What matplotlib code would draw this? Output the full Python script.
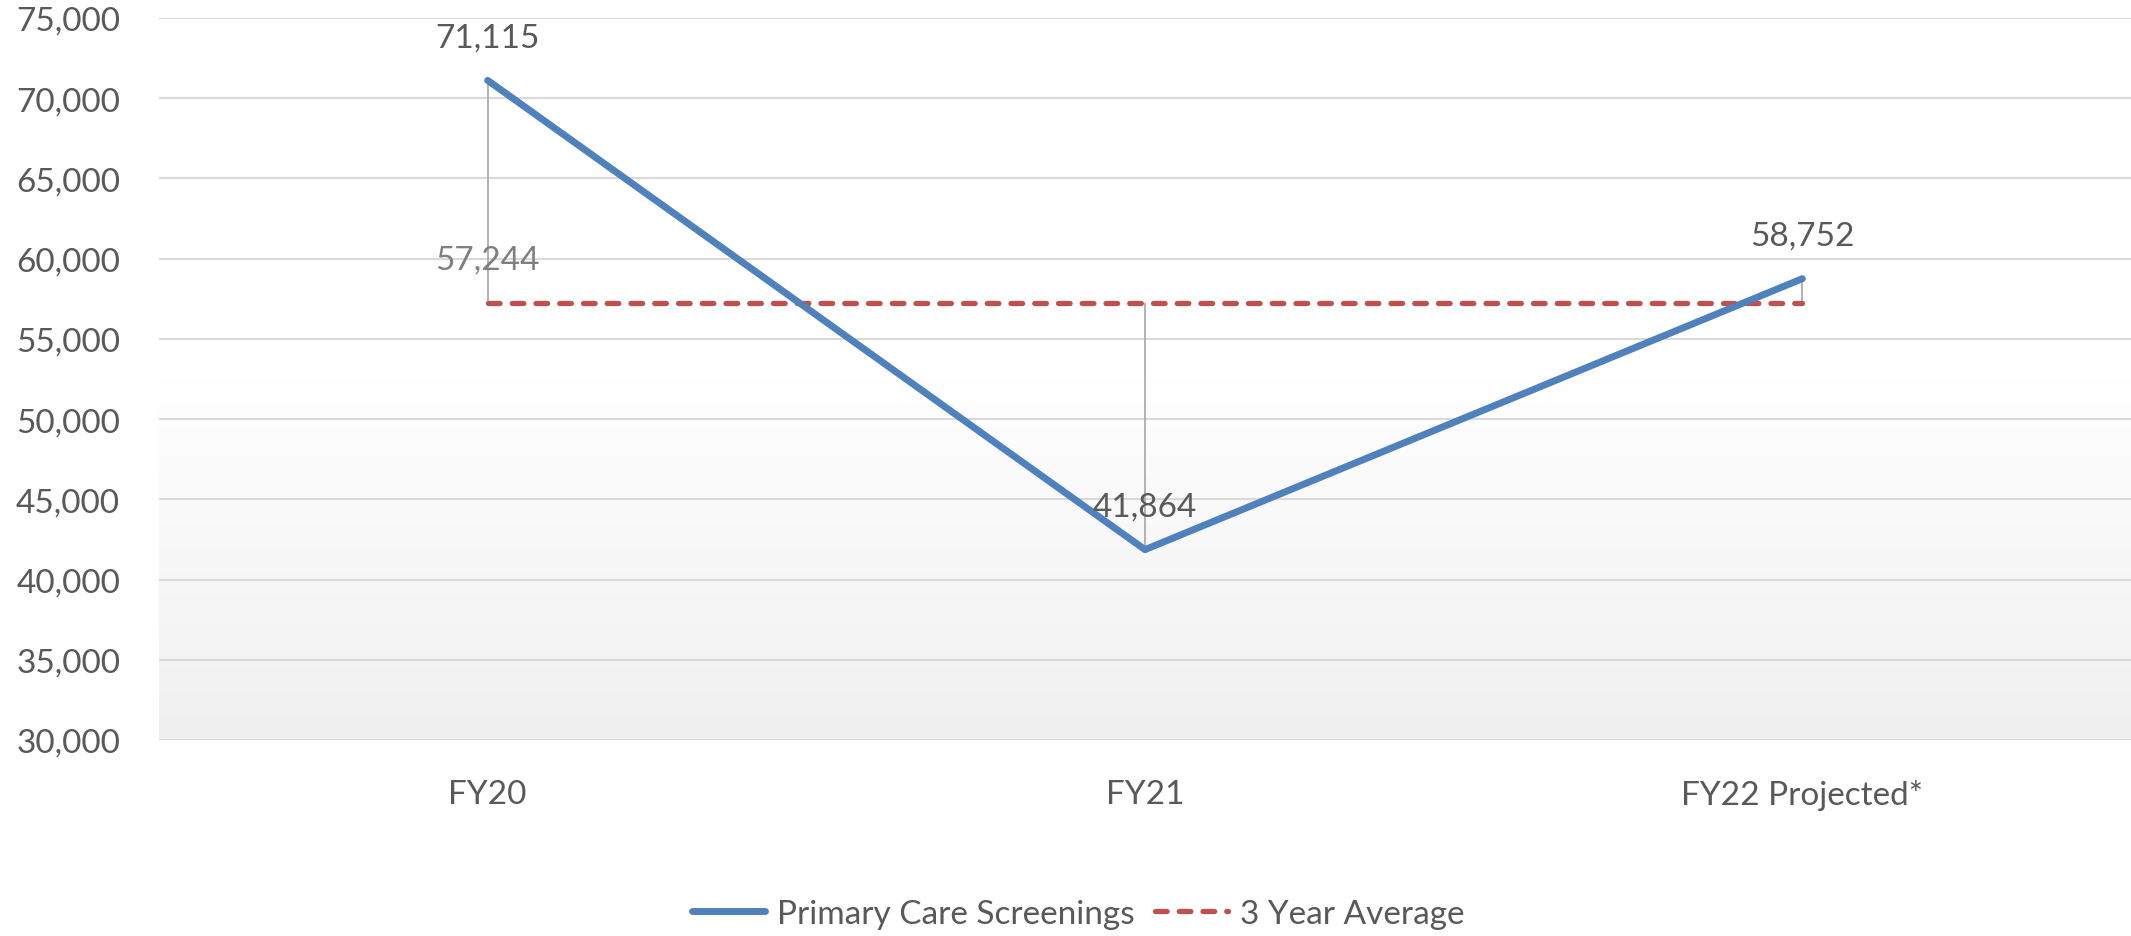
import numpy as np
import matplotlib.pyplot as plt
from matplotlib.colors import LinearSegmentedColormap
from matplotlib.ticker import FuncFormatter, MultipleLocator

categories = ['FY20', 'FY21', 'FY22 Projected*']
screenings = [71115, 41864, 58752]
avgVals = [57244, 57244, 57244]

plt.rcParams['font.family'] = ['Lato', 'DejaVu Sans']
textColor = '#595959'

fig = plt.figure(figsize=(21.31, 9.37), dpi=100)
ax = fig.add_axes([0.0746, 0.2092, 0.9254, 0.7705])

x = np.arange(len(categories))

# background gradient (white at top to light grey at bottom)
grad = np.linspace(0, 1, 256).reshape(-1, 1)
cmap = LinearSegmentedColormap.from_list('bg', ['#ffffff', '#ffffff', '#f0f0f0'])
ax.imshow(grad, cmap=cmap, aspect='auto', extent=[0, 1, 0, 1],
          transform=ax.transAxes, zorder=0, vmin=0, vmax=1)

ax.set_xlim(-0.5, len(categories) - 0.5)
ax.set_ylim(30000, 75000)
ax.yaxis.set_major_locator(MultipleLocator(5000))
ax.yaxis.set_major_formatter(FuncFormatter(lambda v, p: '{:,.0f}'.format(v)))
ax.grid(axis='y', color='#d9d9d9', lw=1.5, zorder=1)
ax.set_axisbelow(True)
for s in ax.spines.values():
    s.set_visible(False)
ax.tick_params(length=0, labelsize=24, colors=textColor)
ax.tick_params(axis='y', pad=28)
ax.tick_params(axis='x', pad=28)
ax.set_xticks(x)
ax.set_xticklabels(categories)

# high-low lines
hi = np.maximum(screenings, avgVals)
lo = np.minimum(screenings, avgVals)
ax.vlines(x, lo, hi, color='#a6a6a6', lw=1.2, zorder=2)

ax.plot(x, screenings, color='#4f81bd', lw=5, solid_capstyle='round',
        solid_joinstyle='round', zorder=4, label='Primary Care Screenings')
ax.plot(x, avgVals, color='#c0504d', lw=3.8, dashes=(2.2, 2.3),
        dash_capstyle='round', zorder=3, label='3 Year Average')

for xi, v in zip(x, screenings):
    ax.annotate('{:,}'.format(v), (xi, v), xytext=(0, 31), textcoords='offset points',
                ha='center', va='center', fontsize=24, color=textColor, zorder=5)
ax.annotate('{:,}'.format(avgVals[0]), (x[0], avgVals[0]), xytext=(0, 31),
            textcoords='offset points', ha='center', va='center', fontsize=24,
            color='#7f7f7f', zorder=5)

fig.legend(loc='center', bbox_to_anchor=(1078 / 2131, 1 - 915 / 937), ncol=2,
           frameon=False, fontsize=24, handlelength=2.2, handletextpad=0.35,
           columnspacing=0.6, labelcolor=textColor)

fig.savefig('out.png', dpi=100)
